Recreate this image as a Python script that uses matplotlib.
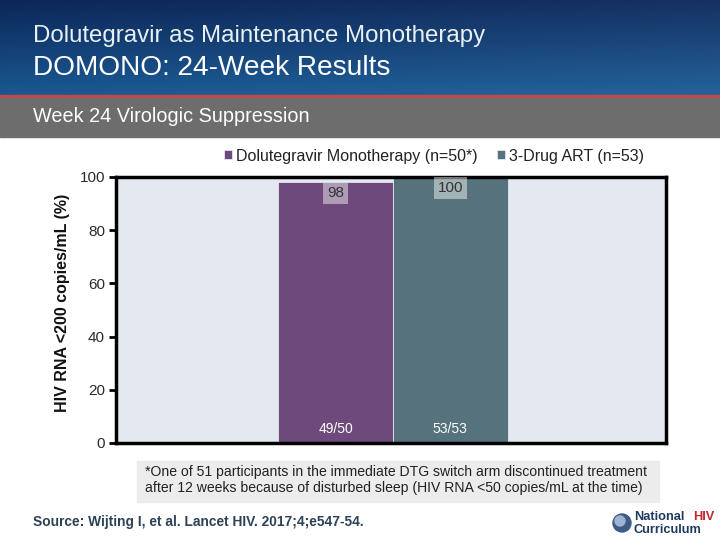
import numpy as np
import matplotlib
matplotlib.use("Agg")
import matplotlib.pyplot as plt
from matplotlib.patches import Rectangle, Circle

plt.rcParams['font.family'] = ['Liberation Sans', 'DejaVu Sans']

# ---- data ----
series = ["Dolutegravir Monotherapy (n=50*)", "3-Drug ART (n=53)"]
values = [98, 100]
counts = ["49/50", "53/53"]
colors = ["#6d4a7b", "#56737d"]
yticks = [0, 20, 40, 60, 80, 100]

title1 = "Dolutegravir as Maintenance Monotherapy"
title2 = "DOMONO: 24-Week Results"
subtitle = "Week 24 Virologic Suppression"
ylabel = "HIV RNA <200 copies/mL (%)"
footnote = ("*One of 51 participants in the immediate DTG switch arm discontinued treatment\n"
            "after 12 weeks because of disturbed sleep (HIV RNA <50 copies/mL at the time)")
source = "Source: Wijting I, et al. Lancet HIV. 2017;4;e547-54."

W, H = 720, 540
fig = plt.figure(figsize=(7.2, 5.4), dpi=100)
fig.patch.set_facecolor("white")

def fy(y):  # pixel y (from top) -> figure fraction
    return 1 - y / H

def fx(x):
    return x / W

# ---- background / header ----
bg = fig.add_axes([0, 0, 1, 1], zorder=-10)
bg.set_xlim(0, W)
bg.set_ylim(H, 0)
bg.axis("off")
grad = np.linspace(0, 1, 100).reshape(-1, 1)
top = np.array([0x0b, 0x27, 0x57]) / 255
bot = np.array([0x1a, 0x58, 0x92]) / 255
img = top + (bot - top) * grad[:, :, None]
hx = np.linspace(0, 1, 200)
img = np.repeat(img, 200, axis=1)
img = img + (0.04 * hx)[None, :, None]
img = np.clip(img, 0, 1)
bg.imshow(img, extent=[0, W, 95, 0], aspect="auto", zorder=0)
bg.add_patch(Rectangle((0, 95), W, 3, color="#c4484a", zorder=1))
bg.add_patch(Rectangle((0, 98), W, 39, color="#6d6d6d", zorder=1))
bg.add_patch(Rectangle((137, 461), 522, 41, color="#ececec", zorder=1))

fig.text(fx(33), fy(36), title1, fontsize=17.3, color="#e8f0f4", va="center", ha="left")
fig.text(fx(33), fy(68), title2, fontsize=20.2, color="white", va="center", ha="left")
fig.text(fx(33), fy(117), subtitle, fontsize=14.3, color="white", va="center", ha="left")
fig.text(fx(145), fy(480), footnote, fontsize=10.1, color="#222222", va="center", ha="left",
         linespacing=1.2)
fig.text(fx(33), fy(522), source, fontsize=9.9, color="#2c4256", va="center", ha="left",
         fontweight="bold")

# logo
bg.add_patch(Circle((622, 523), 9, color="#3e5a86", zorder=2))
bg.add_patch(Circle((620, 521), 5, color="#9fb4d4", zorder=3))
fig.text(fx(634), fy(517), "National", fontsize=9.2, color="#1f3a5f", fontweight="bold",
         va="center", ha="left")
fig.text(fx(714), fy(517), "HIV", fontsize=9.2, color="#c0282d", fontweight="bold",
         va="center", ha="right")
fig.text(fx(634), fy(530), "Curriculum", fontsize=9.2, color="#1f3a5f", fontweight="bold",
         va="center", ha="left")

# ---- plot ----
L, R, T, B = 116, 666, 177, 443
ax = fig.add_axes([fx(L), fy(B), (R - L) / W, (B - T) / H])
ax.set_facecolor("#e4e8f0")
w = 0.355
xs = [-w / 2, w / 2]
bars = ax.bar(xs, values, width=w, color=colors, edgecolor="#e4e8f0", linewidth=0.6,
              label=series, zorder=2)
ax.set_xlim(-0.856, 0.844)
ax.set_ylim(0, 100)
ax.set_yticks(yticks)
ax.set_xticks([])
ax.tick_params(axis="y", direction="out", length=5, width=2, labelsize=11,
               labelcolor="#2a2a2a", pad=3)
for s in ax.spines.values():
    s.set_linewidth(2.5)
    s.set_color("black")
ax.set_ylabel(ylabel, fontsize=11.5, fontweight="bold", color="#111111", va="center")
ax.yaxis.set_label_coords((62 - L) / (R - L), (B - 302.5) / (B - T))

for x, v, c in zip(xs, values, counts):
    ax.annotate(str(v), (x, v), xytext=(0, -3), textcoords="offset points",
                ha="center", va="top", fontsize=11, color="#333333",
                bbox=dict(boxstyle="square,pad=0.25", facecolor="white", alpha=0.45,
                          edgecolor="none"), zorder=4)
    ax.text(x, 5.3, c, ha="center", va="center", fontsize=10, color="white", zorder=4)

leg = fig.legend(handles=bars, labels=series, loc="center",
                 bbox_to_anchor=(fx(434), fy(156)), ncol=2, frameon=False,
                 fontsize=11.5, handlelength=0.5, handleheight=0.5, handletextpad=0.25,
                 columnspacing=1.2, labelcolor="#222222")

fig.savefig("out.png", dpi=100)
